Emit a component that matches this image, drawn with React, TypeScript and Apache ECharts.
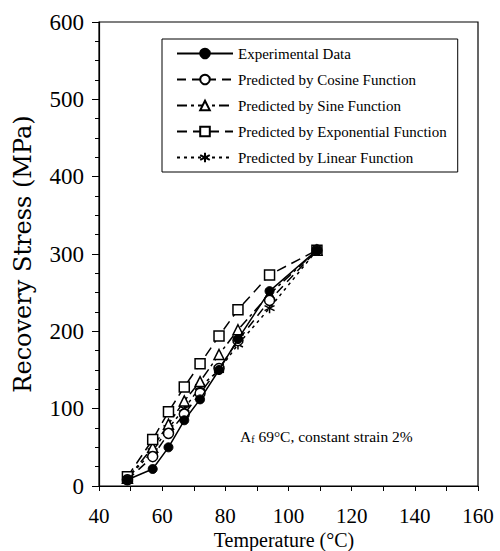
import React, { useEffect, useRef } from "react";
import * as echarts from "echarts";

const temps = [49, 57, 62, 67, 72, 78, 84, 94, 109];
const experimental = [8, 22, 50, 85, 112, 150, 190, 252, 305];
const cosine = [8, 38, 68, 93, 120, 152, 188, 240, 305];
const sine = [10, 50, 80, 110, 135, 170, 202, 248, 305];
const exponential = [12, 60, 96, 128, 158, 194, 228, 273, 305];
const linear = [10, 45, 75, 100, 128, 150, 183, 230, 305];

const seriesNames = [
  "Experimental Data",
  "Predicted by Cosine Function",
  "Predicted by Sine Function",
  "Predicted by Exponential Function",
  "Predicted by Linear Function",
];

const xTitle = "Temperature (°C)";
const yTitle = "Recovery Stress (MPa)";

const SERIF = "'Liberation Serif', 'Times New Roman', serif";

const asterisk = "path://M5,0L5,10M0.7,2.5L9.3,7.5M0.7,7.5L9.3,2.5";

function pairs(vals: number[]) {
  return temps.map((t, i) => [t, vals[i]]);
}

export default function App() {
  const ref = useRef<HTMLDivElement>(null);
  useEffect(() => {
    if (!ref.current) return;
    const chart = echarts.init(ref.current, null, { renderer: "svg" });
    const black = "#000";
    const base = {
      type: "line",
      symbolSize: 10,
      showSymbol: true,
      lineStyle: { color: black, width: 1.5 },
    } as any;
    chart.setOption({
      animation: false,
      backgroundColor: "#fff",
      grid: {
        left: 99,
        right: 22,
        top: 22,
        bottom: 65,
        outerBoundsMode: "none",
        containLabel: false,
        show: true,
        borderColor: black,
        borderWidth: 1.2,
        backgroundColor: "transparent",
      },
      legend: {
        orient: "vertical",
        left: 162,
        top: 39,
        padding: [7, 11, 7, 14],
        itemWidth: 56,
        itemHeight: 12,
        itemGap: 11,
        borderColor: black,
        borderWidth: 1,
        backgroundColor: "#fff",
        textStyle: {
          fontFamily: SERIF,
          fontSize: 15,
          color: black,
          lineHeight: 14,
        },
        data: seriesNames,
      },
      xAxis: {
        type: "value",
        min: 40,
        max: 160,
        interval: 20,
        axisLine: { lineStyle: { color: black, width: 1.2 } },
        axisTick: { length: 5, lineStyle: { color: black } },
        minorTick: { show: true, splitNumber: 2, length: 5, lineStyle: { color: black } },
        splitLine: { show: false },
        axisLabel: { fontFamily: SERIF, fontSize: 21, color: black, margin: 19, lineHeight: 22 },
      },
      yAxis: {
        type: "value",
        min: 0,
        max: 600,
        interval: 100,
        name: yTitle,
        nameLocation: "middle",
        nameGap: 64,
        nameTextStyle: { fontFamily: "'DejaVu Serif', serif", fontSize: 24, color: black },
        axisLine: { lineStyle: { color: black, width: 1.2 } },
        axisTick: { length: 7, lineStyle: { color: black } },
        minorTick: { show: true, splitNumber: 4, length: 4, lineStyle: { color: black } },
        splitLine: { show: false },
        axisLabel: { fontFamily: SERIF, fontSize: 23, color: black, margin: 15 },
      },
      graphic: [
        {
          type: "text",
          x: 284,
          y: 530,
          style: {
            text: xTitle,
            fontFamily: SERIF,
            fontSize: 20,
            lineHeight: 20,
            fill: black,
            align: "center",
            verticalAlign: "top",
          },
        },
        {
          type: "text",
          left: 240,
          top: 428,
          style: {
            text: "{a|A}{s|f}{a| 69°C, constant strain 2%}",
            rich: {
              a: { fontFamily: SERIF, fontSize: 15.5, fill: black },
              s: { fontFamily: SERIF, fontSize: 10, fill: black, verticalAlign: "bottom", padding: [6, 0, 0, 0] },
            },
          },
        },
      ],
      series: [
        {
          ...base,
          name: seriesNames[0],
          data: pairs(experimental),
          symbol: "circle",
          symbolSize: 9,
          itemStyle: { color: black, borderColor: black, borderWidth: 1 },
          lineStyle: { color: black, width: 1.5, type: "solid" },
          z: 5,
        },
        {
          ...base,
          name: seriesNames[1],
          data: pairs(cosine),
          symbol: "circle",
          itemStyle: { color: "#fff", borderColor: black, borderWidth: 1.5 },
          lineStyle: { color: black, width: 1.5, type: [9, 6] },
          z: 4,
        },
        {
          ...base,
          name: seriesNames[2],
          data: pairs(sine),
          symbol: "triangle",
          itemStyle: { color: "#fff", borderColor: black, borderWidth: 1.5 },
          lineStyle: { color: black, width: 1.5, type: [10, 4, 3, 4] },
          z: 3,
        },
        {
          ...base,
          name: seriesNames[3],
          data: pairs(exponential),
          symbol: "rect",
          itemStyle: { color: "#fff", borderColor: black, borderWidth: 1.5 },
          lineStyle: { color: black, width: 1.5, type: [10, 6] },
          z: 3,
        },
        {
          ...base,
          name: seriesNames[4],
          data: pairs(linear),
          symbol: asterisk,
          itemStyle: { color: black, borderColor: black, borderWidth: 1.5 },
          lineStyle: { color: black, width: 1.5, type: [3, 4] },
          z: 2,
        },
      ],
    });
    return () => chart.dispose();
  }, []);
  return (
    <div
      ref={ref}
      style={{ position: "absolute", left: 0, top: 0, width: 500, height: 551 }}
    />
  );
}
